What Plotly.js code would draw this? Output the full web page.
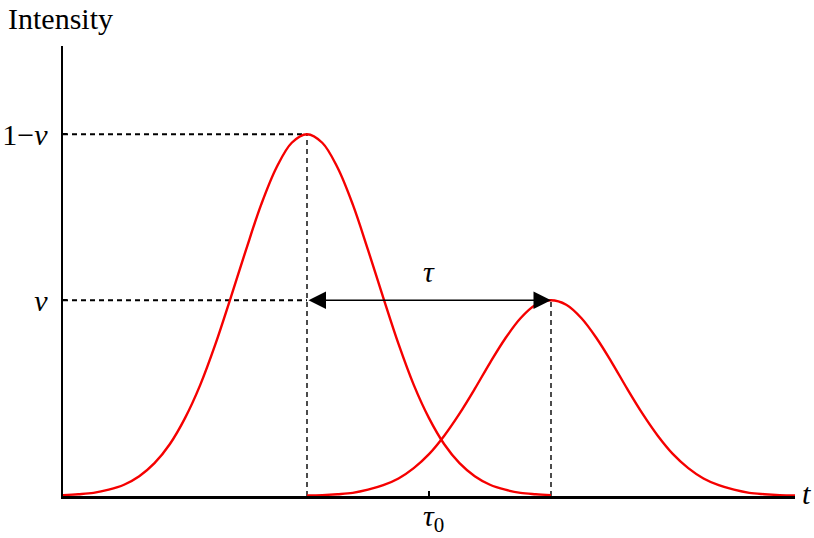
<!DOCTYPE html>
<html>
<head>
<meta charset="utf-8">
<script src="https://cdn.plot.ly/plotly-3.0.1.min.js"></script>
<style>
  body { margin: 0; background: #fff; }
  #chart { width: 814px; height: 538px; }
</style>
</head>
<body>
<div id="chart"></div>
<script>
// pulse samples (t in axis units, intensity 0..1)
var tFirst = [0, 0.25, 0.5, 0.75, 1, 1.25, 1.5, 1.75, 2, 2.25, 2.5, 2.75, 3, 3.25, 3.5, 3.75,
    4, 4.25, 4.5, 4.75, 5, 5.25, 5.5, 5.75, 6, 6.25, 6.5, 6.75, 7, 7.25, 7.5, 7.75, 8];
var iFirst = [0.002, 0.004, 0.007, 0.014, 0.025, 0.044, 0.073, 0.115, 0.173, 0.247, 0.338, 0.441, 0.547, 0.648, 0.730, 0.785,
    0.804, 0.785, 0.730, 0.648, 0.547, 0.441, 0.338, 0.247, 0.173, 0.115, 0.073, 0.044, 0.025, 0.014, 0.007, 0.004, 0.002];

var tSecond = [4, 4.25, 4.5, 4.75, 5, 5.25, 5.5, 5.75, 6, 6.25, 6.5, 6.75, 7, 7.25, 7.5, 7.75,
    8, 8.25, 8.5, 8.75, 9, 9.25, 9.5, 9.75, 10, 10.25, 10.5, 10.75, 11, 11.25, 11.5, 11.75, 12];
var iSecond = [0.001, 0.002, 0.004, 0.007, 0.014, 0.024, 0.039, 0.062, 0.093, 0.134, 0.183, 0.238, 0.296, 0.350, 0.395, 0.425,
    0.435, 0.425, 0.395, 0.350, 0.296, 0.238, 0.183, 0.134, 0.093, 0.062, 0.039, 0.024, 0.014, 0.007, 0.004, 0.002, 0.001];

var yTickText = ['1\u2212<i>\u03bd</i>', '<i>\u03bd</i>'];
var tau0Text = '<i>\u03c4</i><sub>0</sub>';

function peakOf(ts, vs) {
    let k = vs.indexOf(Math.max(...vs));
    return { t: ts[k], v: vs[k] };
}

var p1 = peakOf(tFirst, iFirst);
var p2 = peakOf(tSecond, iSecond);
var tau0 = (p1.t + p2.t) / 2;

var serif = 'Liberation Serif, Times New Roman, serif';
var red = 'rgb(245, 0, 0)';
var fs = 30;

var trace1 = {
    x: tFirst, y: iFirst,
    mode: 'lines',
    line: { color: red, width: 2.4, shape: 'spline', smoothing: 1 },
    hoverinfo: 'skip'
};
var trace2 = {
    x: tSecond, y: iSecond,
    mode: 'lines',
    line: { color: red, width: 2.4, shape: 'spline', smoothing: 1 },
    hoverinfo: 'skip'
};

var dashH = { color: 'black', width: 2, dash: '5px,4px' };
var dashV = { color: 'black', width: 1.4, dash: '5px,4px' };

var layout = {
    width: 814,
    height: 538,
    margin: { l: 63, r: 19, t: 46, b: 42 },
    paper_bgcolor: 'white',
    plot_bgcolor: 'white',
    showlegend: false,
    font: { family: serif, size: fs, color: 'black' },
    xaxis: {
        range: [0, 12],
        showgrid: false,
        zeroline: false,
        showline: true,
        linecolor: 'black',
        linewidth: 2.5,
        ticks: 'inside',
        ticklen: 5,
        tickwidth: 2,
        tickcolor: 'black',
        tickvals: [tau0],
        showticklabels: false
    },
    yaxis: {
        range: [0, 1],
        showgrid: false,
        zeroline: false,
        showline: true,
        linecolor: 'black',
        linewidth: 2.5,
        ticks: 'inside',
        ticklen: 4,
        tickwidth: 2,
        tickcolor: 'black',
        tickvals: [p1.v, p2.v],
        ticktext: yTickText,
        tickfont: { family: serif, size: fs },
        ticklabelstandoff: 7
    },
    shapes: [
        { type: 'line', xref: 'x', yref: 'y', x0: 0, x1: p1.t, y0: p1.v, y1: p1.v, line: dashH, layer: 'below' },
        { type: 'line', xref: 'x', yref: 'y', x0: 0, x1: p1.t, y0: p2.v, y1: p2.v, line: dashH, layer: 'below' },
        { type: 'line', xref: 'x', yref: 'y', x0: p1.t, x1: p1.t, y0: 0, y1: p1.v, line: dashV, layer: 'below' },
        { type: 'line', xref: 'x', yref: 'y', x0: p2.t, x1: p2.t, y0: 0, y1: p2.v, line: dashV, layer: 'below' }
    ],
    annotations: [
        {
            x: p2.t, y: p2.v, ax: p1.t, ay: p2.v,
            xref: 'x', yref: 'y', axref: 'x', ayref: 'y',
            text: '', showarrow: true,
            arrowhead: 2, arrowside: 'end+start',
            arrowsize: 2.5, arrowwidth: 1.4, arrowcolor: 'black',
            standoff: 0, startstandoff: 0
        },
        {
            x: tau0, y: 0.50, xref: 'x', yref: 'y',
            text: '<i>\u03c4</i>', showarrow: false,
            font: { family: serif, size: fs }
        },
        {
            x: tau0, y: -0.048, xref: 'x', yref: 'paper',
            xanchor: 'center', yanchor: 'middle', xshift: 4,
            text: tau0Text, showarrow: false,
            font: { family: serif, size: fs }
        },
        {
            x: -0.078, y: 1.06, xref: 'paper', yref: 'paper',
            xanchor: 'left', yanchor: 'middle',
            text: 'Intensity', showarrow: false,
            font: { family: serif, size: fs }
        },
        {
            x: 1.016, y: 0.005, xref: 'paper', yref: 'paper',
            xanchor: 'center', yanchor: 'middle',
            text: '<i>t</i>', showarrow: false,
            font: { family: serif, size: fs }
        }
    ]
};

Plotly.newPlot('chart', [trace1, trace2], layout, { displayModeBar: false, staticPlot: true });
</script>
</body>
</html>
